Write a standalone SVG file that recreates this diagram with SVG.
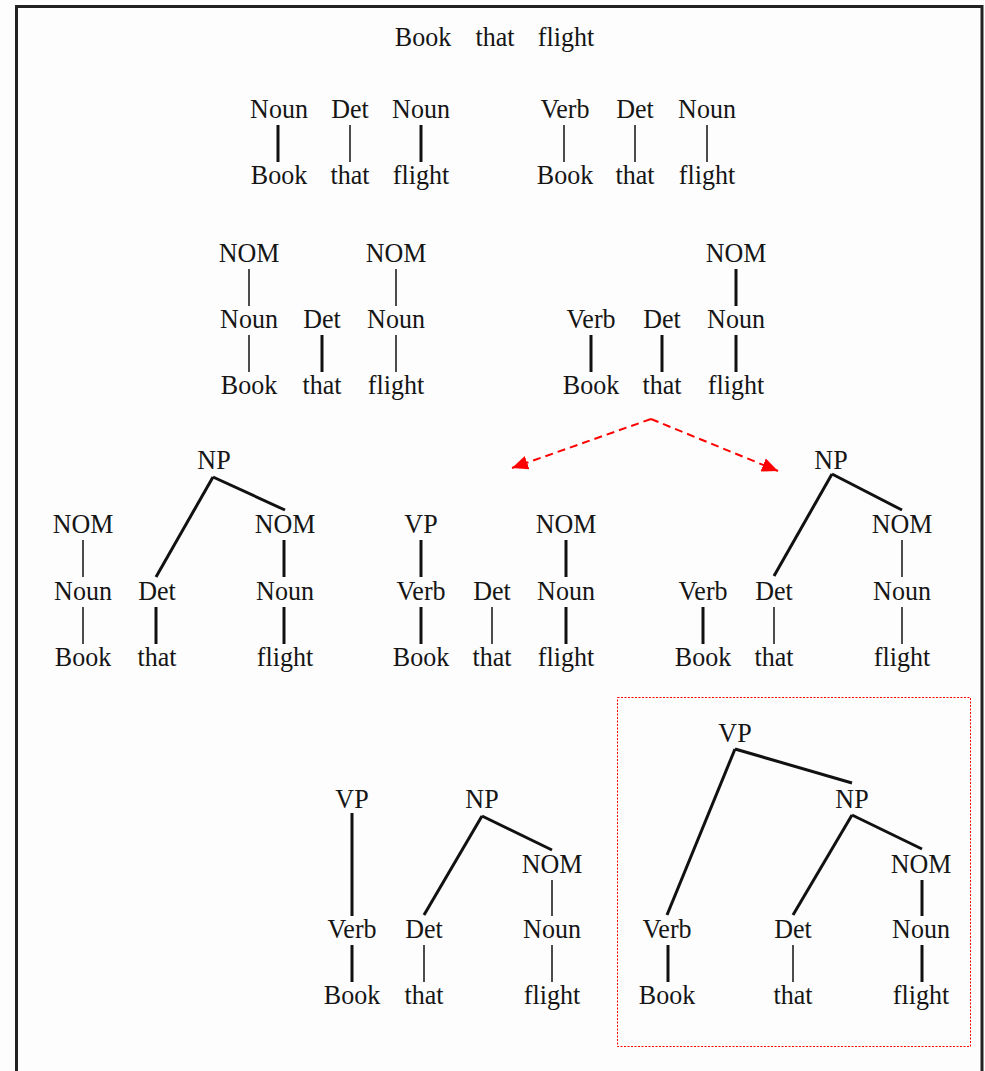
<svg xmlns="http://www.w3.org/2000/svg" width="985" height="1071" viewBox="0 0 985 1071">
<style>
text{font-family:"Liberation Serif","Times New Roman",serif;font-size:28px;fill:#151515;text-anchor:middle;transform-box:fill-box;transform-origin:center;transform:scaleX(0.93)}
line{stroke:#111;stroke-linecap:butt}
.thin{stroke-width:1.5}
.thick{stroke-width:3}
.arrow{stroke:#f00;stroke-width:2;stroke-dasharray:8,5;fill:none}
</style>
<defs>
<marker id="ah" viewBox="0 0 16 14" refX="16" refY="7" markerWidth="16" markerHeight="14" markerUnits="userSpaceOnUse" orient="auto">
<path d="M0,0 L16,7 L0,14 z" fill="#f00"/>
</marker>
</defs>
<rect x="0" y="0" width="985" height="1071" fill="#fdfdfd"/>
<g id="frame">
<path d="M16.5,1071 V6.5 H982 V1071" fill="none" stroke="#222" stroke-width="3"/>
</g>
<g id="sentence">
<text x="423" y="46">Book</text><text x="495" y="46">that</text><text x="566" y="46">flight</text>
</g>

<g id="tree2a">
<text x="279" y="118">Noun</text><text x="350" y="118">Det</text><text x="421" y="118">Noun</text>
<text x="279" y="184">Book</text><text x="350" y="184">that</text><text x="421" y="184">flight</text>
</g>
<g id="tree2b">
<text x="565" y="118">Verb</text><text x="635" y="118">Det</text><text x="707" y="118">Noun</text>
<text x="565" y="184">Book</text><text x="635" y="184">that</text><text x="707" y="184">flight</text>
</g>

<g id="tree3a">
<text x="249" y="262">NOM</text><text x="396" y="262">NOM</text>
<text x="249" y="328">Noun</text><text x="322" y="328">Det</text><text x="396" y="328">Noun</text>
<text x="249" y="394">Book</text><text x="322" y="394">that</text><text x="396" y="394">flight</text>
</g>
<g id="tree3b">
<text x="736" y="262">NOM</text>
<text x="591" y="328">Verb</text><text x="662" y="328">Det</text><text x="736" y="328">Noun</text>
<text x="591" y="394">Book</text><text x="662" y="394">that</text><text x="736" y="394">flight</text>
</g>

<g id="tree4a">
<text x="214" y="469">NP</text>
<text x="83" y="533">NOM</text><text x="285" y="533">NOM</text>
<text x="83" y="600">Noun</text><text x="157" y="600">Det</text><text x="285" y="600">Noun</text>
<text x="83" y="666">Book</text><text x="157" y="666">that</text><text x="285" y="666">flight</text>
</g>
<g id="tree4b">
<text x="421" y="533">VP</text><text x="566" y="533">NOM</text>
<text x="421" y="600">Verb</text><text x="492" y="600">Det</text><text x="566" y="600">Noun</text>
<text x="421" y="666">Book</text><text x="492" y="666">that</text><text x="566" y="666">flight</text>
</g>
<g id="tree4c">
<text x="831" y="469">NP</text>
<text x="902" y="533">NOM</text>
<text x="703" y="600">Verb</text><text x="774" y="600">Det</text><text x="902" y="600">Noun</text>
<text x="703" y="666">Book</text><text x="774" y="666">that</text><text x="902" y="666">flight</text>
</g>

<g id="tree5a">
<text x="352" y="808">VP</text><text x="482" y="808">NP</text>
<text x="552" y="873">NOM</text>
<text x="352" y="938">Verb</text><text x="424" y="938">Det</text><text x="552" y="938">Noun</text>
<text x="352" y="1004">Book</text><text x="424" y="1004">that</text><text x="552" y="1004">flight</text>
</g>
<g id="tree5b">
<rect x="617.5" y="697.5" width="353" height="349" fill="none" stroke="#f00" stroke-width="1" stroke-dasharray="2,1.5"/>
<text x="735" y="742">VP</text>
<text x="852" y="808">NP</text>
<text x="921" y="873">NOM</text>
<text x="667" y="938">Verb</text><text x="793" y="938">Det</text><text x="921" y="938">Noun</text>
<text x="667" y="1004">Book</text><text x="793" y="1004">that</text><text x="921" y="1004">flight</text>
</g>

<g id="connectors">
<line class="thick" x1="278" y1="125" x2="278" y2="162"/>
<line class="thin" x1="350" y1="125" x2="350" y2="162"/>
<line class="thick" x1="421" y1="125" x2="421" y2="162"/>
<line class="thin" x1="564" y1="125" x2="564" y2="162"/>
<line class="thin" x1="635" y1="125" x2="635" y2="162"/>
<line class="thin" x1="707" y1="125" x2="707" y2="162"/>
<line class="thin" x1="249" y1="269" x2="249" y2="306"/>
<line class="thin" x1="249" y1="335" x2="249" y2="372"/>
<line class="thick" x1="322" y1="335" x2="322" y2="372"/>
<line class="thin" x1="396" y1="269" x2="396" y2="306"/>
<line class="thin" x1="396" y1="335" x2="396" y2="372"/>
<line class="thick" x1="736" y1="269" x2="736" y2="306"/>
<line class="thick" x1="591" y1="335" x2="591" y2="372"/>
<line class="thick" x1="662" y1="335" x2="662" y2="372"/>
<line class="thick" x1="736" y1="335" x2="736" y2="372"/>
<line class="arrow" x1="651" y1="419" x2="512" y2="468" marker-end="url(#ah)"/>
<line class="arrow" x1="651" y1="419" x2="778" y2="471" marker-end="url(#ah)"/>
<line class="thick" x1="213" y1="477" x2="156" y2="577"/>
<line class="thick" x1="213" y1="477" x2="285" y2="510"/>
<line class="thin" x1="83" y1="540" x2="83" y2="577"/>
<line class="thin" x1="83" y1="607" x2="83" y2="644"/>
<line class="thick" x1="156" y1="607" x2="156" y2="644"/>
<line class="thick" x1="284" y1="540" x2="284" y2="577"/>
<line class="thick" x1="284" y1="607" x2="284" y2="644"/>
<line class="thick" x1="421" y1="540" x2="421" y2="577"/>
<line class="thick" x1="421" y1="607" x2="421" y2="644"/>
<line class="thin" x1="492" y1="607" x2="492" y2="644"/>
<line class="thick" x1="566" y1="540" x2="566" y2="577"/>
<line class="thick" x1="566" y1="607" x2="566" y2="644"/>
<line class="thick" x1="832" y1="474" x2="774" y2="576"/>
<line class="thick" x1="832" y1="474" x2="902" y2="510"/>
<line class="thick" x1="703" y1="607" x2="703" y2="644"/>
<line class="thin" x1="774" y1="607" x2="774" y2="644"/>
<line class="thin" x1="902" y1="540" x2="902" y2="577"/>
<line class="thin" x1="902" y1="607" x2="902" y2="644"/>
<line class="thick" x1="352" y1="813" x2="352" y2="916"/>
<line class="thick" x1="352" y1="945" x2="352" y2="982"/>
<line class="thick" x1="482" y1="816" x2="424" y2="915"/>
<line class="thick" x1="482" y1="816" x2="552" y2="850"/>
<line class="thin" x1="424" y1="945" x2="424" y2="982"/>
<line class="thin" x1="552" y1="880" x2="552" y2="916"/>
<line class="thin" x1="552" y1="945" x2="552" y2="982"/>
<line class="thick" x1="735" y1="749" x2="667" y2="915"/>
<line class="thick" x1="735" y1="749" x2="852" y2="783"/>
<line class="thick" x1="852" y1="815" x2="793" y2="915"/>
<line class="thick" x1="852" y1="815" x2="922" y2="849"/>
<line class="thick" x1="922" y1="880" x2="922" y2="916"/>
<line class="thick" x1="668" y1="945" x2="668" y2="982"/>
<line class="thin" x1="793" y1="945" x2="793" y2="982"/>
<line class="thick" x1="922" y1="945" x2="922" y2="982"/>
</g>
</svg>
